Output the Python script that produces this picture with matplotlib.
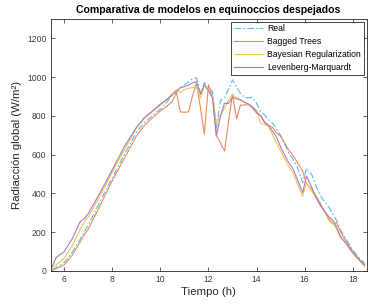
import matplotlib
matplotlib.use("Agg")
import matplotlib.pyplot as plt

# hours of the day (shared by all series)
hours = [5.5, 5.67, 6.0, 6.33, 6.67, 6.83, 7.0, 7.5, 8.0, 8.5,
         9.0, 9.33, 9.67, 10.0, 10.33, 10.5, 10.67, 10.83, 11.0, 11.17,
         11.33, 11.5, 11.67, 11.83, 12.0, 12.17, 12.33, 12.5, 12.67, 12.83,
         13.0, 13.17, 13.33, 13.5, 13.67, 13.83, 14.0, 14.17, 14.33, 14.5,
         14.67, 14.83, 15.0, 15.33, 15.5, 15.67, 15.92, 16.08, 16.33, 16.5,
         16.67, 17.0, 17.17, 17.33, 17.5, 17.67, 18.0, 18.33, 18.5]

real = [7, 18, 43, 95, 165, 200, 236, 360, 480, 600,
        715, 765, 800, 835, 880, 905, 925, 945, 960, 975,
        990, 997, 916, 971, 950, 925, 737, 880, 893, 935,
        985, 950, 915, 895, 893, 895, 865, 822, 805, 780,
        762, 732, 700, 610, 580, 545, 455, 530, 490, 430,
        385, 330, 295, 260, 210, 175, 108, 60, 38]

bagged = [3, 12, 31, 80, 150, 185, 215, 340, 465, 580,
          695, 750, 790, 825, 855, 875, 920, 820, 818, 820,
          900, 965, 840, 705, 960, 895, 700, 660, 618, 765,
          911, 783, 855, 856, 857, 840, 814, 800, 770, 750,
          740, 712, 695, 625, 600, 565, 515, 450, 413, 380,
          345, 265, 242, 248, 200, 165, 100, 50, 28]

bayes = [20, 32, 65, 130, 215, 250, 279, 390, 510, 625,
         735, 785, 820, 855, 890, 915, 935, 920, 935, 942,
         945, 950, 891, 959, 930, 899, 763, 800, 840, 880,
         908, 895, 882, 870, 857, 845, 830, 760, 755, 745,
         700, 660, 620, 540, 510, 460, 385, 455, 404, 370,
         335, 275, 250, 215, 170, 150, 92, 45, 22]

levmar = [22, 70, 99, 165, 255, 268, 296, 405, 522, 640,
          740, 790, 825, 860, 890, 910, 925, 945, 950, 958,
          970, 976, 911, 959, 930, 891, 695, 800, 865, 863,
          894, 888, 882, 870, 860, 845, 820, 800, 765, 750,
          720, 690, 640, 560, 530, 480, 404, 490, 421, 375,
          335, 280, 262, 225, 175, 150, 95, 50, 32]

series = [
    ("Real", real, "#5BBCEA", (0, (6, 2, 1.5, 2))),
    ("Bagged Trees", bagged, "#EB8A5E", "-"),
    ("Bayesian Regularization", bayes, "#F4C452", "-"),
    ("Levenberg-Marquardt", levmar, "#A87CC4", "-"),
]

plt.rcParams["font.family"] = ["Liberation Sans", "DejaVu Sans"]
dark = "#262626"

fig = plt.figure(figsize=(3.76, 3.04), dpi=100)
ax = fig.add_axes([0.135, 0.109, 0.840, 0.829])

for name, vals, col, ls in series:
    ax.plot(hours, vals, color=col, linestyle=ls, linewidth=0.8, label=name)

ax.set_xlim(5.44, 18.58)
ax.set_ylim(0, 1300)
ax.set_xticks([6, 8, 10, 12, 14, 16, 18])
ax.set_yticks([0, 200, 400, 600, 800, 1000, 1200])
ax.tick_params(direction="in", length=3, width=0.5, colors=dark,
               labelsize=6.2, top=True, right=True, pad=3)
ax.tick_params(labelcolor="#404040")
for s in ax.spines.values():
    s.set_color(dark)
    s.set_linewidth(0.6)

ax.set_xlabel("Tiempo (h)", fontsize=8.2, color=dark, labelpad=2)
ax.set_ylabel("Radiacción global (W/m²)", fontsize=8.2, color=dark, labelpad=4)
ax.set_title("Comparativa de modelos en equinoccios despejados",
             fontsize=7.6, fontweight="bold", color="black", pad=4)

leg = ax.legend(loc="upper right", fontsize=6.2, frameon=True, fancybox=False,
                framealpha=1, edgecolor=dark, handlelength=3.4,
                borderpad=0.3, labelspacing=0.45, handletextpad=0.5,
                borderaxespad=0.35)
leg.get_frame().set_linewidth(0.6)

fig.savefig("out.png", dpi=100)
